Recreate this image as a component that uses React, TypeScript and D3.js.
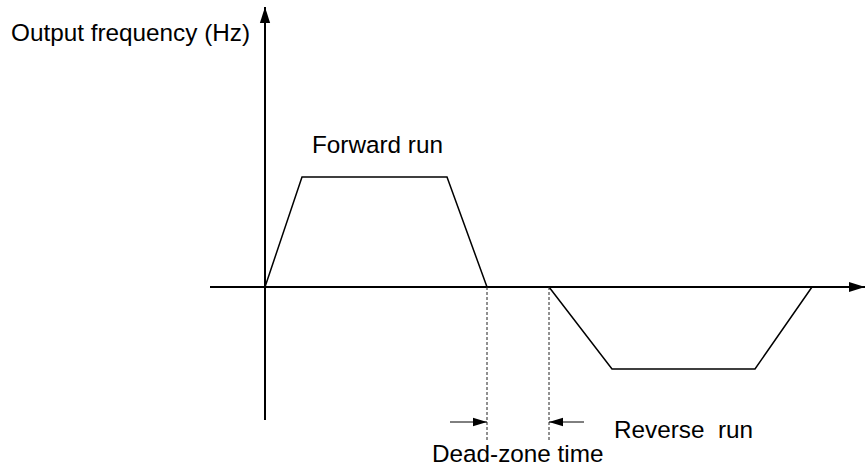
import * as d3 from 'd3';
import { useEffect, useRef } from 'react';

// time (arbitrary units) and output frequency values for each run
const forwardTime = [0, 37, 182, 222];
const forwardFreq = [0, 110, 110, 0];
const reverseTime = [284, 347, 490, 547];
const reverseFreq = [0, -82, -82, 0];
const deadZone = [222, 284];

const width = 865;
const height = 468;

const App = () => {
  const svgRef = useRef<SVGSVGElement>(null);

  useEffect(() => {
    const svg = d3.select(svgRef.current);
    svg.selectAll('*').remove();

    const x = d3.scaleLinear().domain([-55, 600]).range([210, 865]);
    const y = d3.scaleLinear().domain([-100, 100]).range([387, 187]);

    const defs = svg.append('defs');
    // big head for the axes
    defs.append('marker')
      .attr('id', 'arrow')
      .attr('viewBox', '0 0 10 10')
      .attr('refX', 10)
      .attr('refY', 5)
      .attr('markerWidth', 16)
      .attr('markerHeight', 16)
      .attr('markerUnits', 'userSpaceOnUse')
      .attr('orient', 'auto')
      .append('path')
      .attr('d', 'M0,1.8 L10,5 L0,8.2 Z')
      .attr('fill', '#000');
    // small head for the dead-zone arrows
    defs.append('marker')
      .attr('id', 'arrowSmall')
      .attr('viewBox', '0 0 10 10')
      .attr('refX', 10)
      .attr('refY', 5)
      .attr('markerWidth', 14)
      .attr('markerHeight', 14)
      .attr('markerUnits', 'userSpaceOnUse')
      .attr('orient', 'auto')
      .append('path')
      .attr('d', 'M0,2 L10,5 L0,8 Z')
      .attr('fill', '#000');

    // axes
    svg.append('line')
      .attr('x1', x(-55)).attr('x2', x(600))
      .attr('y1', y(0)).attr('y2', y(0))
      .attr('stroke', '#000').attr('stroke-width', 2)
      .attr('marker-end', 'url(#arrow)');
    svg.append('line')
      .attr('x1', x(0)).attr('x2', x(0))
      .attr('y1', y(-133)).attr('y2', y(280))
      .attr('stroke', '#000').attr('stroke-width', 2)
      .attr('marker-end', 'url(#arrow)');

    const line = d3.line<[number, number]>()
      .x(d => x(d[0]))
      .y(d => y(d[1]));

    svg.append('path')
      .attr('d', line(d3.zip(forwardTime, forwardFreq) as [number, number][]))
      .attr('fill', 'none').attr('stroke', '#000').attr('stroke-width', 1.5);
    svg.append('path')
      .attr('d', line(d3.zip(reverseTime, reverseFreq) as [number, number][]))
      .attr('fill', 'none').attr('stroke', '#000').attr('stroke-width', 1.5);

    // dead-zone guides
    svg.selectAll('line.dz')
      .data(deadZone)
      .enter()
      .append('line')
      .attr('class', 'dz')
      .attr('x1', d => x(d)).attr('x2', d => x(d))
      .attr('y1', y(0)).attr('y2', y(-153))
      .attr('stroke', '#222').attr('stroke-width', 1)
      .attr('stroke-dasharray', '3,2');

    svg.append('line')
      .attr('x1', x(deadZone[0] - 37)).attr('x2', x(deadZone[0]))
      .attr('y1', y(-135)).attr('y2', y(-135))
      .attr('stroke', '#000').attr('stroke-width', 1)
      .attr('marker-end', 'url(#arrowSmall)');
    svg.append('line')
      .attr('x1', x(deadZone[1] + 35)).attr('x2', x(deadZone[1]))
      .attr('y1', y(-135)).attr('y2', y(-135))
      .attr('stroke', '#000').attr('stroke-width', 1)
      .attr('marker-end', 'url(#arrowSmall)');

    const text = (tx: number, ty: number, s: string) =>
      svg.append('text')
        .attr('x', tx).attr('y', ty)
        .attr('font-family', 'Liberation Sans, Arial, sans-serif')
        .attr('font-size', 24.3)
        .attr('fill', '#000')
        .attr('xml:space', 'preserve')
        .style('white-space', 'pre')
        .text(s);

    text(11, 41, 'Output frequency (Hz)');
    text(312, 153, 'Forward run');
    text(614, 438, 'Reverse  run');
    text(432, 462, 'Dead-zone time');
  }, []);

  return (
    <svg
      ref={svgRef}
      width={width}
      height={height}
      style={{ position: 'absolute', left: 0, top: 0, background: '#fff' }}
    ></svg>
  );
};

export default App;
